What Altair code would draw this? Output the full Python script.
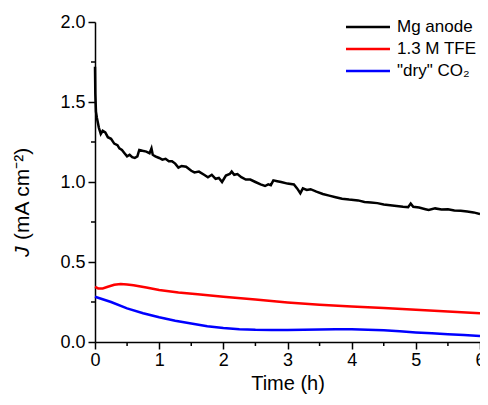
import altair as alt
import pandas as pd

# ---- data ----
series_names = ["Mg anode", "1.3 M TFE", "\"dry\" CO₂"]
series_colors = ["#000000", "#ff0000", "#0000ff"]

mg_t = [0, 0.005, 0.015, 0.03, 0.06, 0.09, 0.12, 0.16, 0.2, 0.25, 0.3, 0.35, 0.38, 0.42, 0.46, 0.5,
        0.54, 0.58, 0.62, 0.66, 0.69, 0.74, 0.8, 0.85, 0.88, 0.9, 0.94, 1.0, 1.05, 1.1, 1.15, 1.2,
        1.25, 1.3, 1.35, 1.42, 1.5, 1.55, 1.62, 1.7, 1.76, 1.82, 1.88, 1.93, 1.98, 2.04, 2.1, 2.13,
        2.17, 2.22, 2.28, 2.35, 2.42, 2.5, 2.58, 2.65, 2.7, 2.74, 2.78, 2.84, 2.9, 3.0, 3.1, 3.15,
        3.2, 3.24, 3.3, 3.36, 3.45, 3.55, 3.65, 3.75, 3.85, 3.96, 4.1, 4.2, 4.3, 4.4, 4.5, 4.6, 4.7,
        4.8, 4.88, 4.92, 4.96, 5.05, 5.15, 5.2, 5.3, 5.4, 5.5, 5.6, 5.7, 5.8, 5.9, 6.0]
mg_j = [1.72, 1.55, 1.44, 1.40, 1.34, 1.30, 1.32, 1.31, 1.28, 1.27, 1.24, 1.23, 1.21, 1.20, 1.18, 1.16,
        1.17, 1.155, 1.15, 1.16, 1.20, 1.195, 1.19, 1.18, 1.21, 1.17, 1.16, 1.15, 1.14, 1.145, 1.13, 1.13,
        1.115, 1.09, 1.10, 1.095, 1.07, 1.06, 1.065, 1.045, 1.03, 1.045, 1.02, 1.025, 1.0, 1.04, 1.05, 1.065,
        1.045, 1.05, 1.03, 1.015, 1.015, 1.0, 0.985, 0.975, 0.985, 0.98, 1.01, 1.005, 1.0, 0.99, 0.985, 0.96,
        0.93, 0.96, 0.95, 0.955, 0.94, 0.925, 0.915, 0.905, 0.895, 0.89, 0.885, 0.875, 0.872, 0.868, 0.86, 0.855, 0.85,
        0.845, 0.843, 0.865, 0.845, 0.84, 0.83, 0.825, 0.835, 0.828, 0.83, 0.822, 0.82, 0.815, 0.81, 0.80]

tfe_t = [0, 0.05, 0.12, 0.2, 0.3, 0.4, 0.5, 0.6, 0.8, 1.0, 1.3, 1.6, 2.0, 2.5, 3.0, 3.5, 4.0, 4.5, 5.0, 5.5, 6.0]
tfe_j = [0.345, 0.335, 0.335, 0.345, 0.358, 0.363, 0.36, 0.355, 0.34, 0.325, 0.31, 0.298, 0.283, 0.265,
         0.247, 0.233, 0.222, 0.212, 0.202, 0.19, 0.18]

co2_t = [0, 0.25, 0.5, 0.75, 1.0, 1.25, 1.5, 1.75, 2.0, 2.25, 2.5, 2.75, 3.0, 3.25, 3.5, 3.75, 4.0, 4.25,
         4.5, 4.75, 5.0, 5.25, 5.5, 5.75, 6.0]
co2_j = [0.283, 0.25, 0.21, 0.18, 0.155, 0.133, 0.115, 0.098, 0.087, 0.08, 0.076, 0.075, 0.075, 0.077,
         0.078, 0.079, 0.079, 0.077, 0.073, 0.067, 0.06, 0.054, 0.048, 0.043, 0.038]

x_major = [0, 1, 2, 3, 4, 5, 6]
x_minor = [0.5, 1.5, 2.5, 3.5, 4.5, 5.5]
y_major = [0.0, 0.5, 1.0, 1.5, 2.0]
y_minor = [0.25, 0.75, 1.25, 1.75]

rows = []
for name, ts, js in zip(series_names, [mg_t, tfe_t, co2_t], [mg_j, tfe_j, co2_j]):
    for t, j in zip(ts, js):
        rows.append({"t": t, "j": j, "s": name})
df = pd.DataFrame(rows)

FONT = "Liberation Sans"
W, H = 385, 320
MINOR = 4

xscale = alt.Scale(domain=[0, 6], nice=False)
yscale = alt.Scale(domain=[0, 2.0], nice=False)

lines = alt.Chart(df).mark_line(strokeWidth=2.5).encode(
    x=alt.X("t:Q", scale=xscale,
            axis=alt.Axis(values=x_major, title="Time (h)", format="d", tickSize=7,
                          labelFontSize=18, titleFontSize=20, titlePadding=4, labelPadding=2,
                          grid=False, domainColor="black", tickColor="black", domainWidth=1.5,
                          tickWidth=1.5, labelColor="black", titleColor="black",
                          labelFont=FONT, titleFont=FONT, titleFontWeight="normal",
                          labelFlush=False)),
    y=alt.Y("j:Q", scale=yscale,
            axis=alt.Axis(values=y_major, title=None, format=".1f", tickSize=7,
                          labelFontSize=18, labelPadding=3, grid=False,
                          domainColor="black", tickColor="black", domainWidth=1.5, tickWidth=1.5,
                          labelColor="black", labelFont=FONT)),
    color=alt.Color("s:N", scale=alt.Scale(domain=series_names, range=series_colors),
                    sort=series_names,
                    legend=alt.Legend(title=None, orient="none", legendX=264, legendY=-4,
                                      padding=0,
                                      symbolType="M-3,0H3", symbolSize=215, symbolStrokeWidth=2.5,
                                      labelFontSize=17, labelFont=FONT, labelColor="black",
                                      rowPadding=5, labelOffset=20)),
    detail="s:N",
)

xminor = alt.Chart(pd.DataFrame({"v": x_minor})).mark_rule(color="black", strokeWidth=1.5).encode(
    x=alt.X("v:Q", scale=xscale),
    y=alt.value(H), y2=alt.value(H + MINOR),
)
yminor = alt.Chart(pd.DataFrame({"v": y_minor})).mark_rule(color="black", strokeWidth=1.5).encode(
    y=alt.Y("v:Q", scale=yscale),
    x=alt.value(0), x2=alt.value(-MINOR),
)

tJ = alt.Chart(pd.DataFrame({"txt": ["J"]})).mark_text(
    angle=270, align="left", baseline="middle", fontSize=21, font=FONT, fontStyle="italic",
    color="black").encode(text="txt:N", x=alt.value(-72), y=alt.value(235))
tRest = alt.Chart(pd.DataFrame({"txt": ["(mA cm⁻²)"]})).mark_text(
    angle=270, align="left", baseline="middle", fontSize=21, font=FONT,
    color="black").encode(text="txt:N", x=alt.value(-72), y=alt.value(218))

chart = alt.layer(lines, xminor, yminor, tJ, tRest).properties(
    width=W, height=H,
    autosize=alt.AutoSizeParams(type="none"),
    padding={"left": 87, "top": 14, "right": 0, "bottom": 55},
    background="white",
).configure_view(stroke=None)

chart.save("out.html", embed_options={"renderer": "svg", "actions": False})
